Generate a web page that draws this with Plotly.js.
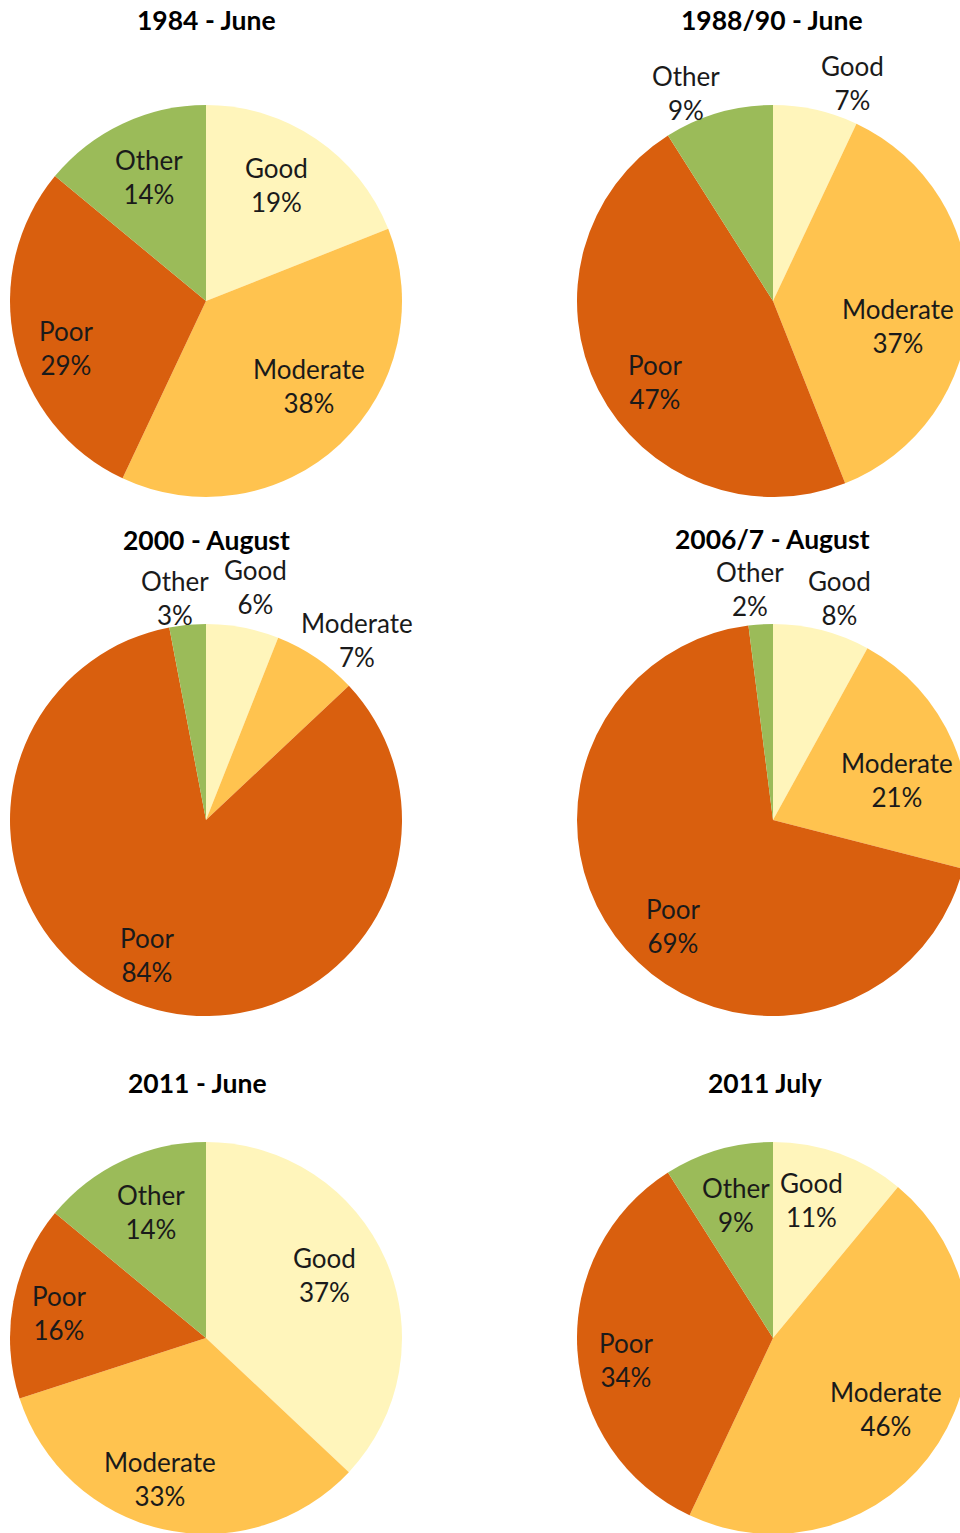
<!DOCTYPE html>
<html>
<head>
<meta charset="utf-8">
<script src="https://cdn.plot.ly/plotly-3.0.1.min.js"></script>
<style>
html,body{margin:0;padding:0;overflow:hidden;background:#fff;width:960px;height:1533px;}
#chart{width:980px;height:1540px;}
</style>
</head>
<body>
<div id="chart"></div>
<script>
// ---- data ----
const categories = ['Good', 'Moderate', 'Poor', 'Other'];
const titles = ['1984 - June', '1988/90 - June', '2000 - August', '2006/7 - August', '2011 - June', '2011 July'];
const june1984 = [19, 38, 29, 14];
const june1988_90 = [7, 37, 47, 9];
const august2000 = [6, 7, 84, 3];
const august2006_7 = [8, 21, 69, 2];
const june2011 = [37, 33, 16, 14];
const july2011 = [11, 46, 34, 9];
const seriesList = [june1984, june1988_90, august2000, august2006_7, june2011, july2011];

// ---- styles / layout positions (pixels) ----
const sliceColors = ['#FFF5BB', '#FFC34F', '#D95F0E', '#9BBB59'];
const W = 980, H = 1540, R = 196;
const centers = [[206, 301], [773, 301], [206, 820], [773, 820], [206, 1338], [773, 1338]];
const titlePos = [[206, 20], [772, 20], [206, 540], [772, 539], [197, 1083], [765, 1083]];
// label centres per chart, in category order Good, Moderate, Poor, Other
const labelPos = [
  [[276, 185], [309, 386], [66, 348], [149, 177]],
  [[852, 83], [898, 326], [655, 382], [686, 93]],
  [[255, 587], [357, 640], [147, 955], [175, 598]],
  [[839, 598], [897, 780], [673, 926], [750, 589]],
  [[324, 1275], [160, 1479], [59, 1313], [151, 1212]],
  [[811, 1200], [886, 1409], [626, 1360], [736, 1205]]
];
const FONT = 'Lato, "Open Sans", sans-serif';

const px = x => x / W;
const py = y => 1 - y / H;

const data = seriesList.map((vals, i) => {
  const [cx, cy] = centers[i];
  return {
    type: 'pie',
    labels: categories,
    values: vals,
    sort: false,
    direction: 'clockwise',
    rotation: 0,
    textinfo: 'none',
    hoverinfo: 'skip',
    showlegend: false,
    marker: {colors: sliceColors, line: {width: 0}},
    domain: {x: [px(cx - R), px(cx + R)], y: [py(cy + R), py(cy - R)]}
  };
});

const annotations = [];
titles.forEach((t, i) => {
  annotations.push({
    text: '<b>' + t + '</b>', xref: 'paper', yref: 'paper',
    x: px(titlePos[i][0]), y: py(titlePos[i][1]), xanchor: 'center', yanchor: 'middle',
    showarrow: false, borderpad: 0, font: {family: FONT, size: 26.5, color: '#000'}
  });
});
seriesList.forEach((vals, i) => {
  vals.forEach((v, j) => {
    annotations.push({
      text: categories[j] + '<br>' + v + '%', xref: 'paper', yref: 'paper',
      x: px(labelPos[i][j][0]), y: py(labelPos[i][j][1]), xanchor: 'center', yanchor: 'middle',
      showarrow: false, borderpad: 0, align: 'center', font: {family: FONT, size: 26, color: '#1a1a1a'}
    });
  });
});

const layout = {
  width: W, height: H,
  margin: {l: 0, r: 0, t: 0, b: 0, pad: 0},
  paper_bgcolor: '#fff', plot_bgcolor: '#fff',
  font: {family: FONT},
  showlegend: false,
  annotations: annotations
};

Plotly.newPlot('chart', data, layout, {staticPlot: true, displayModeBar: false});
</script>
</body>
</html>
